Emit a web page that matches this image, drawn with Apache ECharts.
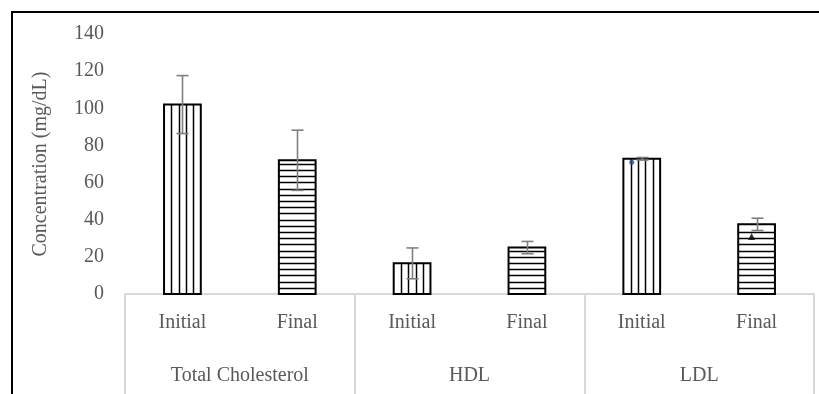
<!DOCTYPE html>
<html>
<head>
<meta charset="utf-8">
<style>
  html, body { margin: 0; padding: 0; background: #fff; }
  #chart { width: 819px; height: 394px; }
</style>
<script src="https://cdn.jsdelivr.net/npm/echarts@6/dist/echarts.min.js"></script>
</head>
<body>
<div id="chart"></div>
<script>
// Lipid profile: mean concentration before and after, with standard deviation
const groups = ['Total Cholesterol', 'HDL', 'LDL'];
const phases = ['Initial', 'Final'];
const initialMean = [102, 16.5, 72.8];
const finalMean = [72, 25, 37.5];
const initialSD = [15.6, 8.3, 0.7];
const finalSD = [16.2, 3.3, 3.3];
// individual highlighted points inside the LDL bars
const ldlPoints = [71, 31];
const yTicks = { min: 0, max: 140, interval: 20 };

const FONT = 'Liberation Serif';
const TEXT = '#595959';
const RULE = '#d9d9d9';

// six bar slots: group g, phase p -> slot 2*g + p
const slotLabels = [];
const barData = [];
const errData = [];
groups.forEach((g, gi) => {
  phases.forEach((p, pi) => {
    const slot = gi * 2 + pi;
    slotLabels.push(p);
    const m = pi === 0 ? initialMean[gi] : finalMean[gi];
    const sd = pi === 0 ? initialSD[gi] : finalSD[gi];
    barData.push([slot, m, pi]);
    errData.push([slot, m - sd, m + sd]);
  });
});

const BAR_FRAC = 0.32;

function renderBar(params, api) {
  const slot = api.value(0);
  const v = api.value(1);
  const hatch = api.value(2); // 0 = vertical lines, 1 = horizontal lines
  const base = api.coord([slot, 0]);
  const top = api.coord([slot, v]);
  const bw = api.size([1, 0])[0] * BAR_FRAC;
  const left = base[0] - bw / 2;
  const h = base[1] - top[1];
  const children = [{
    type: 'rect',
    shape: { x: left, y: top[1], width: bw, height: h },
    style: { fill: '#fff', stroke: 'none' }
  }];
  const lineStyle = { stroke: '#000', lineWidth: 1.5 };
  if (hatch === 0) {
    for (let k = 1; k < 5; k++) {
      const x = Math.round(left + k * bw / 5) + 0.5;
      children.push({ type: 'line', shape: { x1: x, y1: top[1], x2: x, y2: base[1] }, style: lineStyle });
    }
  } else {
    const step = 6.2;
    for (let y = base[1] - step; y > top[1] + 2; y -= step) {
      const yy = Math.round(y) + 0.5;
      children.push({ type: 'line', shape: { x1: left, y1: yy, x2: left + bw, y2: yy }, style: lineStyle });
    }
  }
  children.push({
    type: 'rect',
    shape: { x: left, y: top[1], width: bw, height: h },
    style: { fill: 'none', stroke: '#000', lineWidth: 2 }
  });
  return { type: 'group', children };
}

function renderErr(params, api) {
  const slot = api.value(0);
  const lo = api.coord([slot, api.value(1)]);
  const hi = api.coord([slot, api.value(2)]);
  const x = Math.round(lo[0]) + 0.5;
  const cap = 6;
  const st = { stroke: '#7f7f7f', lineWidth: 1.6 };
  return {
    type: 'group',
    children: [
      { type: 'line', shape: { x1: x, y1: hi[1], x2: x, y2: lo[1] }, style: st },
      { type: 'line', shape: { x1: x - cap, y1: hi[1], x2: x + cap, y2: hi[1] }, style: st },
      { type: 'line', shape: { x1: x - cap, y1: lo[1], x2: x + cap, y2: lo[1] }, style: st }
    ]
  };
}

const chart = echarts.init(document.getElementById('chart'), null, { renderer: 'canvas' });

chart.setOption({
  animation: false,
  backgroundColor: '#fff',
  grid: { left: 125, right: 5, top: 34, bottom: 100, containLabel: false },
  xAxis: [
    {
      type: 'category',
      data: slotLabels,
      position: 'bottom',
      axisLine: { show: true, lineStyle: { color: RULE, width: 2 } },
      axisTick: { show: false },
      axisLabel: { color: TEXT, fontFamily: FONT, fontSize: 20, margin: 19, interval: 0 },
      splitLine: { show: false }
    },
    {
      type: 'category',
      data: groups,
      position: 'bottom',
      axisLine: { show: true, lineStyle: { color: RULE, width: 2 } },
      axisTick: { show: true, length: 100, interval: 0, lineStyle: { color: RULE, width: 2 } },
      axisLabel: { color: TEXT, fontFamily: FONT, fontSize: 20, margin: 72, interval: 0 },
      splitLine: { show: false }
    }
  ],
  yAxis: {
    type: 'value',
    min: yTicks.min,
    max: yTicks.max,
    interval: yTicks.interval,
    name: 'Concentration (mg/dL)',
    nameLocation: 'middle',
    nameGap: 74,
    nameTextStyle: { color: TEXT, fontFamily: FONT, fontSize: 20 },
    axisLine: { show: false },
    axisTick: { show: false },
    splitLine: { show: false },
    axisLabel: { color: TEXT, fontFamily: FONT, fontSize: 20, margin: 21 }
  },
  series: [
    {
      type: 'custom',
      xAxisIndex: 0,
      renderItem: renderBar,
      data: barData,
      encode: { x: 0, y: 1 },
      z: 2
    },
    {
      type: 'custom',
      xAxisIndex: 0,
      renderItem: renderErr,
      data: errData,
      encode: { x: 0, y: [1, 2] },
      z: 3
    },
    {
      type: 'scatter',
      xAxisIndex: 0,
      data: [
        { value: [4, ldlPoints[0]], symbol: 'circle', symbolSize: 5, symbolOffset: [-10, 0], itemStyle: { color: '#1f4e9a' } },
        { value: [5, ldlPoints[1]], symbol: 'triangle', symbolSize: 7, symbolOffset: [-5, 0], itemStyle: { color: '#000' } }
      ],
      z: 4
    }
  ],
  graphic: [
    { type: 'line', shape: { x1: 11, y1: 12, x2: 819, y2: 12 }, style: { stroke: '#000', lineWidth: 2 }, z: 10 },
    { type: 'line', shape: { x1: 12, y1: 11, x2: 12, y2: 394 }, style: { stroke: '#000', lineWidth: 2 }, z: 10 }
  ]
});
</script>
</body>
</html>
